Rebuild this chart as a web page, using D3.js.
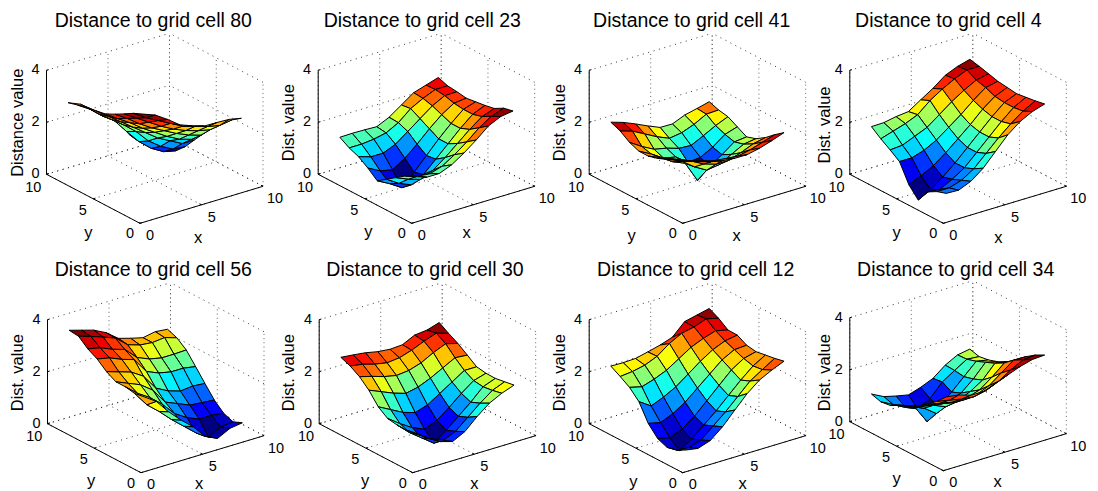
<!DOCTYPE html>
<html><head><meta charset="utf-8">
<script src="https://cdn.jsdelivr.net/npm/d3@7"></script>
<style>html,body{margin:0;padding:0;background:#fff}svg{display:block}text{font-family:"Liberation Sans",Arial,sans-serif;fill:#000}</style>
</head><body><svg id="c" width="1098" height="491"></svg>
<script>
// Chart values: z at grid x=1..9 (rows), y=1..9 (columns)
const cell80=[[3.87,3.71,3.5,3.3,3.12,3.05,3.0,2.9,2.8],[3.69,3.4,3.2,3.0,2.8,2.7,2.6,2.6,2.6],[3.38,3.15,2.9,2.65,2.5,2.35,2.25,2.2,2.25],[3.03,2.9,2.6,2.35,2.15,2.0,1.9,1.87,1.9],[2.85,2.65,2.35,2.1,1.85,1.65,1.5,1.31,1.5],[2.7,2.5,2.15,1.85,1.55,1.3,1.0,.78,.85],[2.69,2.35,2.0,1.65,1.3,1.05,.65,.38,.5],[2.67,2.25,1.9,1.5,1.15,.8,.4,.11,.3],[2.57,2.32,2.07,1.68,1.24,.8,.35,0,.3]];
const cell23=[[1.46,1.3,1.05,.8,.55,.85,1.1,1.25,1.47],[1.3,1.15,.85,.5,.3,.6,.95,1.25,1.48],[1.3,1.1,.7,.3,0,.5,.95,1.3,1.47],[1.49,1.25,.9,.55,.45,.8,1.15,1.4,1.45],[1.8,1.55,1.25,1.0,.95,1.2,1.5,1.65,1.67],[2.16,1.9,1.65,1.45,1.45,1.65,1.85,2.05,2.0],[2.56,2.3,2.05,1.9,1.9,2.05,2.2,2.3,2.33],[2.78,2.6,2.4,2.3,2.3,2.35,2.45,2.5,2.48],[2.85,2.77,2.57,2.5,2.45,2.4,2.46,2.5,2.63]];
const cell41=[[2.05,1.9,1.75,1.6,1.5,1.5,1.65,1.9,2.05],[1.9,1.75,1.6,1.45,1.3,1.25,1.35,1.75,1.9],[1.75,1.6,1.4,1.2,1.0,.95,1.1,1.5,1.7],[1.65,1.45,1.15,.85,.8,.85,1.0,1.25,1.48],[1.6,1.4,1.0,.58,0,.5,.85,1.05,1.28],[1.6,1.35,1.0,.65,.4,.55,.82,1.12,1.27],[1.7,1.45,1.15,.9,.7,.8,1.05,1.3,1.47],[1.85,1.6,1.35,1.15,1.05,1.15,1.3,1.55,1.58],[2.02,1.75,1.45,1.22,1.1,1.3,1.5,1.57,1.7]];
const cell4=[[.82,.7,.5,0,.4,1.1,1.36,1.6,1.88],[.8,.7,.45,.25,.6,1.1,1.4,1.75,1.89],[1.0,.85,.7,.6,.85,1.25,1.6,1.9,1.98],[1.36,1.15,1.0,1.0,1.2,1.5,1.8,2.1,2.03],[1.86,1.6,1.45,1.45,1.6,1.85,2.15,2.5,2.34],[2.36,2.05,1.9,1.9,2.0,2.2,2.5,2.8,2.64],[2.73,2.45,2.35,2.35,2.45,2.6,2.8,3.05,3.0],[2.97,2.8,2.75,2.75,2.8,2.95,3.05,3.25,3.2],[3.12,3.05,3.0,2.95,3.0,3.05,3.15,3.25,3.33]];
const cell56=[[2.59,2.53,2.6,2.6,2.8,3.1,3.3,3.6,3.64],[2.27,1.95,2.2,2.4,2.65,3.0,3.2,3.45,3.5],[1.73,1.55,1.9,2.2,2.5,2.8,3.0,3.28,3.36],[1.27,1.1,1.5,1.85,2.2,2.65,2.85,3.1,3.12],[.87,.7,1.0,1.25,1.6,2.05,2.4,2.7,2.76],[.35,.3,.7,1.05,1.35,1.85,2.2,2.55,2.62],[.14,0,.5,.85,1.2,1.75,2.1,2.5,2.5],[.38,.25,.5,.8,1.25,1.75,2.1,2.55,2.59],[.45,.3,.44,.76,1.21,1.67,2.12,2.4,2.54]];
const cell30=[[1.2,1.12,1.13,1.19,1.45,1.9,2.23,2.45,2.6],[.85,.8,.7,.85,1.2,1.7,2.1,2.38,2.55],[.58,.5,.35,.55,.95,1.5,1.95,2.24,2.49],[.44,.3,0,.35,.8,1.35,1.85,2.15,2.39],[.68,.5,.35,.55,.95,1.45,1.9,2.2,2.34],[1.12,.9,.75,.9,1.25,1.65,2.05,2.35,2.37],[1.49,1.3,1.15,1.3,1.55,1.9,2.3,2.55,2.6],[1.73,1.65,1.6,1.65,1.85,2.15,2.5,2.72,2.65],[1.9,1.84,1.78,1.79,1.85,2.11,2.37,2.57,2.8]];
const cell12=[[.54,.35,.27,.42,.81,1.46,1.82,2.05,2.26],[.46,.3,0,.3,.7,1.15,1.7,2.1,2.25],[.62,.45,.3,.5,.9,1.35,1.85,2.2,2.27],[1.01,.85,.7,.85,1.2,1.6,2.05,2.4,2.38],[1.51,1.25,1.1,1.3,1.6,1.95,2.35,2.75,2.5],[2.0,1.7,1.55,1.75,2.0,2.3,2.65,3.0,2.66],[2.38,2.15,2.0,2.2,2.4,2.6,2.85,3.1,3.12],[2.62,2.45,2.4,2.5,2.65,2.8,3.0,3.27,3.23],[2.82,2.74,2.68,2.62,2.68,2.88,2.89,3.15,3.34]];
const cell34=[[2.51,2.15,1.85,1.6,1.4,1.25,1.05,1.0,1.11],[2.44,2.05,1.75,1.5,1.25,1.05,.9,.75,.87],[2.29,1.95,1.65,1.4,1.15,.85,.7,.5,.75],[2.28,1.9,1.6,1.3,.95,.5,0,.3,.65],[2.46,2.0,1.65,1.35,1.05,.75,.45,.55,.8],[2.64,2.2,1.85,1.5,1.25,1.0,.85,1.05,1.0],[2.82,2.5,2.2,1.85,1.55,1.4,1.3,1.35,1.37],[2.95,2.75,2.55,2.25,2.05,1.9,1.75,1.64,1.62],[2.98,2.79,2.54,2.22,1.97,1.78,1.66,1.6,1.7]];
const seriesValues=[cell80,cell23,cell41,cell4,cell56,cell30,cell12,cell34];
const titles=["Distance to grid cell 80","Distance to grid cell 23","Distance to grid cell 41","Distance to grid cell 4","Distance to grid cell 56","Distance to grid cell 30","Distance to grid cell 12","Distance to grid cell 34"];
const zLabels=["Distance value","Dist. value","Dist. value","Dist. value","Dist. value","Dist. value","Dist. value","Dist. value"];
const gridPositions=[1,2,3,4,5,6,7,8,9];
const xyTicks=[0,5,10];
const zTicks=[0,2,4];

// Layout, one entry per panel
const layout=[
 {ox:140,oy:223.3,tx:153.3,ty:20,zlx:16.7,zly:122.7,xl:[58,13.4],yl:[-51.7,9]},
 {ox:411.7,oy:223.3,tx:422.3,ty:20,zlx:288.3,zly:122.7,xl:[55,8.4],yl:[-43.4,7.4]},
 {ox:682.7,oy:223.3,tx:691.7,ty:20,zlx:559,zly:122.7,xl:[54,11.7],yl:[-51,11.7]},
 {ox:943.3,oy:223.3,tx:948.3,ty:20,zlx:824,zly:125,xl:[55,13.4],yl:[-46.6,8.4]},
 {ox:141,oy:472.7,tx:153.3,ty:269,zlx:16.7,zly:372.7,xl:[58,10.5],yl:[-50,7.3]},
 {ox:412.7,oy:472.7,tx:425,ty:269,zlx:288.3,zly:372.7,xl:[61.6,10],yl:[-47.7,7.3]},
 {ox:682.7,oy:472.7,tx:695.7,ty:269,zlx:559,zly:372.7,xl:[60,10.5],yl:[-49.4,8]},
 {ox:943.3,oy:470.7,tx:955.7,ty:269,zlx:824,zly:372.7,xl:[54.4,10],yl:[-46.6,7.6]}
];
const svg=d3.select("#c");
function jet(t){
  const q=Math.min(63,Math.floor(t*64))/63;
  const f=v=>Math.round(255*Math.max(0,Math.min(1,v)));
  const a=4*q;
  return `rgb(${f(Math.min(a-1.5,-a+4.5))},${f(Math.min(a-.5,-a+3.5))},${f(Math.min(a+.5,-a+2.5))})`;
}
// shear scales: each data axis contributes a screen offset
const xToH=d3.scaleLinear().domain([0,10]).range([0,123]);
const xToV=d3.scaleLinear().domain([0,10]).range([0,-37]);
const yToH=d3.scaleLinear().domain([0,10]).range([0,-93.5]);
const yToV=d3.scaleLinear().domain([0,10]).range([0,-49]);
const zToV=d3.scaleLinear().domain([0,4]).range([0,-104]);

seriesValues.forEach((Z,pi)=>{
  const L=layout[pi];
  const g=svg.append("g");
  const P=(x,y,z)=>[L.ox+xToH(x)+yToH(y), L.oy+xToV(x)+yToV(y)+zToV(z)];
  const line=(a,b)=>({a,b});
  // grid
  const dots=[];
  xyTicks.forEach(t=>{
    dots.push(line(P(t,0,0),P(t,10,0)));          // floor
    dots.push(line(P(0,t,0),P(10,t,0)));
    dots.push(line(P(t,10,0),P(t,10,4)));         // back wall verticals
    dots.push(line(P(10,t,0),P(10,t,4)));
  });
  zTicks.forEach(t=>{
    dots.push(line(P(0,10,t),P(10,10,t)));
    dots.push(line(P(10,0,t),P(10,10,t)));
  });
  g.append("g").selectAll("line").data(dots).join("line")
    .attr("x1",d=>d.a[0]).attr("y1",d=>d.a[1]).attr("x2",d=>d.b[0]).attr("y2",d=>d.b[1])
    .attr("stroke",d=>Math.abs(d.a[0]-d.b[0])<.1?"#555":"#222")
    .attr("stroke-width",.9)
    .attr("stroke-dasharray",d=>Math.abs(d.a[0]-d.b[0])<.1?"1 3.2":"1 4.6");
  // axes
  const axes=[line(P(0,0,0),P(10,0,0)),line(P(0,0,0),P(0,10,0)),line(P(0,10,0),P(0,10,4))];
  xyTicks.forEach(t=>{
    axes.push(line(P(t,0,0),P(t,.22,0)));
    axes.push(line(P(0,t,0),P(.18,t,0)));
  });
  zTicks.forEach(t=>axes.push(line(P(0,10,t),P(.18,10,t))));
  g.append("g").selectAll("line").data(axes).join("line")
    .attr("x1",d=>d.a[0]).attr("y1",d=>d.a[1]).attr("x2",d=>d.b[0]).attr("y2",d=>d.b[1])
    .attr("stroke","#000").attr("stroke-width",1);
  // surface
  const all=Z.flat();
  const color=d3.scaleLinear().domain([d3.min(all),d3.max(all)]).range([0,1]);
  const cells=[];
  for(let i=0;i<8;i++)for(let j=0;j<8;j++){
    const xs=[gridPositions[i],gridPositions[i+1]],ys=[gridPositions[j],gridPositions[j+1]];
    const zm=(Z[i][j]+Z[i+1][j]+Z[i][j+1]+Z[i+1][j+1])/4;
    cells.push({
      pts:[P(xs[0],ys[0],Z[i][j]),P(xs[1],ys[0],Z[i+1][j]),P(xs[1],ys[1],Z[i+1][j+1]),P(xs[0],ys[1],Z[i][j+1])],
      c:jet(color(Z[i][j])),
      depth:-8.66*(xs[0]+.5)-11.27*(ys[0]+.5)+11.25*zm
    });
  }
  cells.sort((a,b)=>a.depth-b.depth);
  g.append("g").selectAll("polygon").data(cells).join("polygon")
    .attr("points",d=>d.pts.map(p=>p.join(",")).join(" "))
    .attr("fill",d=>d.c).attr("stroke","#000").attr("stroke-width",1).attr("stroke-linejoin","round");
  // tick labels
  const fs=14.5;
  const txt=(s,x,y,anchor,size)=>g.append("text").attr("x",x).attr("y",y).attr("text-anchor",anchor)
    .attr("dominant-baseline","central").attr("font-size",size).text(s);
  zTicks.forEach(t=>{const p=P(0,10,t);txt(String(t),p[0]-7,p[1]-1,"end",fs);});
  const xOff={0:[10,11.7],5:[71.7,-6.6],10:[135,-25]};
  const yOff={0:[-10,10],5:[-57.3,-13.3],10:[-106.7,-36.6]};
  xyTicks.forEach(t=>{
    txt(String(t),L.ox+xOff[t][0],L.oy+xOff[t][1],"middle",fs);
    txt(String(t),L.ox+yOff[t][0],L.oy+yOff[t][1],"middle",fs);
  });
  txt("x",L.ox+L.xl[0],L.oy+L.xl[1],"middle",16.5);
  txt("y",L.ox+L.yl[0],L.oy+L.yl[1],"middle",16.5);
  g.append("text").attr("transform",`translate(${L.zlx},${L.zly}) rotate(-90)`)
    .attr("text-anchor","middle").attr("dominant-baseline","central").attr("font-size",16.5).text(zLabels[pi]);
  txt(titles[pi],L.tx,L.ty,"middle",19.5);
});
</script></body></html>
